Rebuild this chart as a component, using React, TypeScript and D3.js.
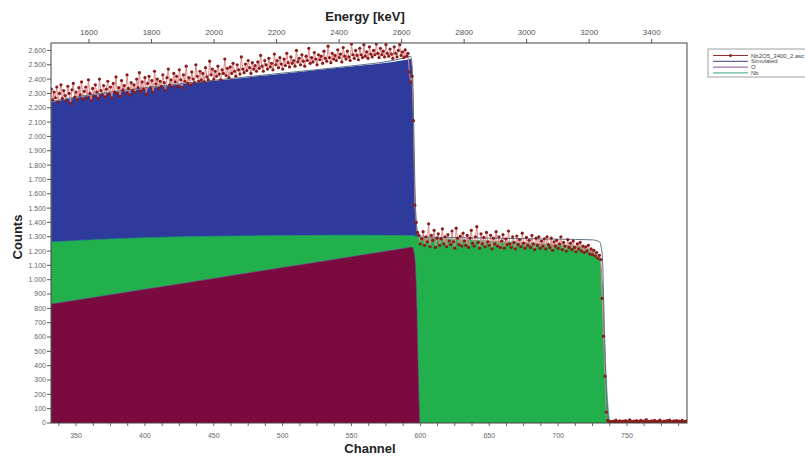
import { useMemo } from "react";
import * as d3 from "d3";

const WIDTH = 805;
const HEIGHT = 456;
// plot area: x 51..687, y 43..423
const MARGIN = { top: 43, right: 118, bottom: 33, left: 51 };

// measured spectrum, one value per channel starting at FIRST_CHANNEL
const FIRST_CHANNEL = 332;
const measuredCounts = [
  2330, 2255, 2310, 2270, 2345, 2240, 2300, 2360, 2265, 2320,
  2285, 2250, 2350, 2300, 2230, 2325, 2370, 2275, 2310, 2255,
  2340, 2290, 2380, 2260, 2315, 2345, 2270, 2395, 2300, 2250,
  2335, 2280, 2360, 2310, 2265, 2400, 2320, 2290, 2355, 2275,
  2330, 2385, 2295, 2345, 2270, 2370, 2310, 2415, 2300, 2340,
  2280, 2390, 2325, 2355, 2300, 2430, 2335, 2290, 2375, 2320,
  2360, 2305, 2400, 2340, 2445, 2315, 2380, 2330, 2410, 2295,
  2370, 2420, 2340, 2390, 2310, 2455, 2365, 2400, 2335, 2385,
  2350, 2430, 2375, 2320, 2410, 2470, 2360, 2395, 2345, 2440,
  2380, 2420, 2350, 2465, 2395, 2340, 2430, 2385, 2490, 2370,
  2410, 2360, 2450, 2400, 2375, 2500, 2420, 2385, 2455, 2395,
  2440, 2380, 2480, 2415, 2395, 2525, 2430, 2470, 2400, 2455,
  2420, 2490, 2435, 2395, 2465, 2440, 2540, 2425, 2475, 2410,
  2485, 2440, 2510, 2455, 2420, 2500, 2465, 2435, 2555, 2470,
  2445, 2505, 2460, 2530, 2480, 2440, 2515, 2470, 2495, 2455,
  2520, 2475, 2565, 2490, 2455, 2530, 2500, 2470, 2545, 2485,
  2510, 2465, 2575, 2500, 2530, 2480, 2550, 2505, 2470, 2540,
  2495, 2580, 2515, 2485, 2555, 2510, 2530, 2490, 2600, 2520,
  2545, 2500, 2570, 2525, 2490, 2560, 2530, 2615, 2510, 2550,
  2520, 2585, 2540, 2500, 2570, 2535, 2560, 2510, 2595, 2545,
  2525, 2630, 2550, 2515, 2580, 2540, 2565, 2530, 2605, 2550,
  2575, 2520, 2620, 2560, 2540, 2595, 2555, 2530, 2645, 2570,
  2545, 2600, 2565, 2535, 2615, 2570, 2550, 2640, 2560, 2590,
  2545, 2625, 2575, 2555, 2600, 2570, 2645, 2580, 2550, 2615,
  2570, 2595, 2555, 2640, 2580, 2560, 2610, 2575, 2545, 2625,
  2580, 2555, 2600, 2640, 2565, 2590, 2550, 2605, 2560, 2580,
  2450, 2380, 2420, 2110, 1520, 1400, 1330,
  1310, 1250, 1285, 1335, 1240, 1300, 1265, 1390, 1230, 1310,
  1275, 1345, 1225, 1290, 1320, 1240, 1285, 1355, 1250, 1300,
  1230, 1315, 1270, 1245, 1340, 1265, 1220, 1360, 1290, 1245,
  1305, 1235, 1325, 1270, 1240, 1310, 1225, 1290, 1345, 1255,
  1235, 1300, 1370, 1260, 1220, 1320, 1250, 1295, 1230, 1330,
  1265, 1240, 1310, 1215, 1290, 1250, 1335, 1235, 1300, 1225,
  1270, 1315, 1220, 1285, 1245, 1340, 1250, 1225, 1300, 1260,
  1215, 1305, 1245, 1280, 1230, 1325, 1255, 1220, 1295, 1240,
  1275, 1225, 1310, 1250, 1210, 1290, 1240, 1300, 1220, 1270,
  1235, 1285, 1215, 1300, 1245, 1225, 1290, 1205, 1265, 1235,
  1275, 1220, 1250, 1300, 1210, 1260, 1235, 1200, 1280, 1225,
  1255, 1210, 1270, 1225, 1195, 1250, 1215, 1260, 1200, 1235,
  1190, 1230, 1200, 1240, 1180, 1215, 1175, 1205, 1165, 1190,
  1150, 1170, 1140, 870, 606, 327, 76,
  18, 8, 12, 5, 14, 9, 20, 6, 11, 15,
  7, 13, 4, 17, 10, 8, 22, 12, 6, 14,
  9, 16, 5, 11, 19, 7, 13, 10, 24, 8,
  12, 6, 15, 9, 18, 11, 7, 14, 20, 10,
  5, 13, 8, 16, 12, 21, 9, 6, 15, 11,
  17, 8, 13, 10, 19, 7, 12, 14,
];

// simulated spectrum (smooth curve)
const simulatedChannels = [332, 360, 400, 450, 500, 550, 580, 590, 593, 594.5, 595.5, 596.5, 598, 600, 620, 650, 700, 725, 730, 732, 733.5, 735, 736.5, 740, 793.6];
const simulatedCounts = [2245, 2290, 2340, 2392, 2442, 2492, 2530, 2552, 2558, 2400, 1900, 1500, 1320, 1298, 1295, 1290, 1283, 1278, 1265, 1180, 700, 200, 20, 5, 5];

// filled contributions
const topLayerChannels = [332, 360, 400, 450, 500, 550, 580, 590, 593, 594.5, 595.5, 596.5, 598, 599];
const topLayerCounts = [2240, 2285, 2335, 2388, 2438, 2488, 2520, 2535, 2540, 2400, 1900, 1500, 1310, 1300];
const midLayerChannels = [332, 360, 400, 450, 500, 550, 594, 598, 600, 620, 650, 680, 700, 715, 725, 730, 732, 734, 736, 737.5];
const midLayerCounts = [1263, 1278, 1293, 1303, 1308, 1310, 1308, 1300, 1298, 1285, 1270, 1255, 1245, 1232, 1200, 1150, 1000, 520, 150, 0];
const lowLayerChannels = [332, 400, 450, 500, 550, 590, 594, 596, 597.5, 598.5, 599.5];
const lowLayerCounts = [830, 933, 1009, 1085, 1161, 1222, 1228, 1150, 800, 350, 0];

const channelTicks = [350, 400, 450, 500, 550, 600, 650, 700, 750];
const energyTicks = [1600, 1800, 2000, 2200, 2400, 2600, 2800, 3000, 3200, 3400];
const countTicks = d3.range(0, 2601, 100);

const legendItems = [
  { label: "Nb2O5_3400_2.asc", color: "#8b1a1a", marker: true },
  { label: "Simulated", color: "#2a2a6e", marker: false },
  { label: "O", color: "#7a3c96", marker: false },
  { label: "Nb", color: "#1f9a7a", marker: false },
];

const fmtCount = (v) =>
  v >= 1000 ? `${Math.floor(v / 1000)}.${String(v % 1000).padStart(3, "0")}` : String(v);

export default function App() {
  const plotRight = WIDTH - MARGIN.right;
  const plotBottom = HEIGHT - MARGIN.bottom;

  const xScale = d3.scaleLinear().domain([331.8, 793.6]).range([MARGIN.left, plotRight]);
  const eScale = d3.scaleLinear().domain([1478.4, 3512.9]).range([MARGIN.left, plotRight]);
  const yScale = d3.scaleLinear().domain([0, 2652]).range([plotBottom, MARGIN.top]);

  const measured = useMemo(
    () => measuredCounts.map((c, i) => [FIRST_CHANNEL + i, c]),
    []
  );
  const zip = (xs, ys) => xs.map((x, i) => [x, ys[i]]);

  const area = d3
    .area()
    .x((d) => xScale(d[0]))
    .y0(yScale(0))
    .y1((d) => yScale(d[1]))
    .curve(d3.curveMonotoneX);
  const smooth = d3
    .line()
    .x((d) => xScale(d[0]))
    .y((d) => yScale(d[1]))
    .curve(d3.curveMonotoneX);
  const straight = d3
    .line()
    .x((d) => xScale(d[0]))
    .y((d) => yScale(d[1]));

  const minorChannel = d3.range(337.5, 793, 12.5);
  const font = "'Liberation Sans', Arial, sans-serif";

  return (
    <svg
      width={WIDTH}
      height={HEIGHT}
      style={{ position: "absolute", left: 0, top: 0, background: "#fff" }}
      fontFamily={font}
    >
      <defs>
        <clipPath id="plotClip">
          <rect x={MARGIN.left} y={MARGIN.top} width={plotRight - MARGIN.left} height={plotBottom - MARGIN.top} />
        </clipPath>
      </defs>

      <g clipPath="url(#plotClip)">
        <path d={area(zip(topLayerChannels, topLayerCounts))} fill="#2e3b9c" />
        <path d={area(zip(midLayerChannels, midLayerCounts))} fill="#22b04c" />
        <path d={area(zip(lowLayerChannels, lowLayerCounts))} fill="#7b0a3e" />
        <path d={smooth(zip(lowLayerChannels, lowLayerCounts))} fill="none" stroke="#7a3c96" strokeWidth={0.6} />
        <path d={smooth(zip(midLayerChannels, midLayerCounts))} fill="none" stroke="#1f9a7a" strokeWidth={0.6} />
        <path d={straight(measured)} fill="none" stroke="#e08a8a" strokeWidth={1} />
        <path d={smooth(zip(simulatedChannels, simulatedCounts))} fill="none" stroke="#5d7583" strokeWidth={1} />
        {measured.map((d, i) => (
          <circle key={i} cx={xScale(d[0])} cy={yScale(d[1])} r={1.6} fill="#8b1a1a" />
        ))}
      </g>

      {/* frame */}
      <rect
        x={MARGIN.left}
        y={MARGIN.top}
        width={plotRight - MARGIN.left}
        height={plotBottom - MARGIN.top}
        fill="none"
        stroke="#444"
        strokeWidth={1}
      />

      {/* left axis */}
      {countTicks.map((t) => (
        <g key={t}>
          <line x1={MARGIN.left - 4} x2={MARGIN.left} y1={yScale(t)} y2={yScale(t)} stroke="#555" />
          <text x={MARGIN.left - 5} y={yScale(t)} dy="0.35em" textAnchor="end" fontSize={7} fill="#666">
            {fmtCount(t)}
          </text>
        </g>
      ))}

      {/* bottom axis */}
      {minorChannel.map((t) => (
        <line key={t} x1={xScale(t)} x2={xScale(t)} y1={plotBottom} y2={plotBottom + 3} stroke="#666" />
      ))}
      {channelTicks.map((t) => (
        <text key={t} x={xScale(t)} y={plotBottom + 15} textAnchor="middle" fontSize={7} fill="#666">
          {t}
        </text>
      ))}

      {/* top axis */}
      {energyTicks.map((t) => (
        <g key={t}>
          <line x1={eScale(t)} x2={eScale(t)} y1={MARGIN.top - 4} y2={MARGIN.top} stroke="#555" />
          <text x={eScale(t)} y={MARGIN.top - 8} textAnchor="middle" fontSize={8} fill="#555">
            {t}
          </text>
        </g>
      ))}

      {/* titles */}
      <text x={365} y={21} textAnchor="middle" fontSize={13} fontWeight="bold" fill="#222">
        Energy [keV]
      </text>
      <text x={370} y={453} textAnchor="middle" fontSize={13} fontWeight="bold" fill="#222">
        Channel
      </text>
      <text transform="translate(22,237) rotate(-90)" textAnchor="middle" fontSize={13} fontWeight="bold" fill="#222">
        Counts
      </text>

      {/* legend */}
      <rect x={708} y={49} width={110} height={28} fill="#fff" stroke="#888" strokeWidth={0.8} />
      {legendItems.map((d, i) => {
        const ly = 55.5 + i * 5.8;
        return (
          <g key={d.label}>
            <line x1={713} x2={748} y1={ly} y2={ly} stroke={d.color} strokeWidth={0.9} />
            {d.marker && <circle cx={730.5} cy={ly} r={1.5} fill={d.color} />}
            <text x={751} y={ly} dy="0.35em" fontSize={6} fill="#444">
              {d.label}
            </text>
          </g>
        );
      })}
    </svg>
  );
}
